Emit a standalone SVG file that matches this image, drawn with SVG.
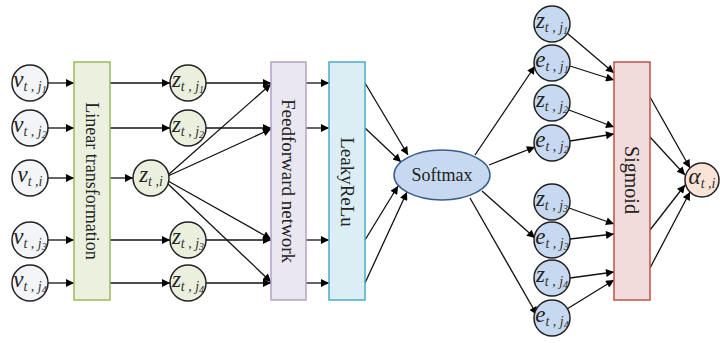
<svg xmlns="http://www.w3.org/2000/svg" width="720" height="343" viewBox="0 0 720 343">
<defs>
<marker id="ah" viewBox="0 0 10 10" refX="10" refY="5" markerWidth="10" markerHeight="8" markerUnits="userSpaceOnUse" orient="auto">
<path d="M0,0 L10,5 L0,10 z" fill="#000"/>
</marker>
</defs>
<style>
.c line{stroke:#111;stroke-width:1.3;marker-end:url(#ah);fill:none}
.circ{stroke:#222;stroke-width:1.5}
.v{fill:#f3f5f9}
.z{fill:#ebf0de}
.b{fill:#c6d9f1}
.a{fill:#fbe3d8}
.m{font-family:"Liberation Serif","Times New Roman",serif;font-style:italic;font-size:23px;fill:#222}
.s{font-size:14px;fill:#333}
.ss{font-size:10px}
.lbl{font-family:"Liberation Serif","Times New Roman",serif;font-size:18px;fill:#222}
</style>
<rect width="720" height="343" fill="#fff"/>
<g id="connectors" class="c">
<line x1="48" y1="83" x2="74" y2="83"/>
<line x1="48" y1="128" x2="74" y2="128"/>
<line x1="48" y1="178" x2="74" y2="178"/>
<line x1="48" y1="240" x2="74" y2="240"/>
<line x1="48" y1="283" x2="74" y2="283"/>
<line x1="110" y1="83" x2="170" y2="83"/>
<line x1="110" y1="128" x2="170" y2="128"/>
<line x1="110" y1="178" x2="133" y2="178"/>
<line x1="110" y1="240" x2="170" y2="240"/>
<line x1="110" y1="283" x2="170" y2="283"/>
<line x1="206" y1="83" x2="271" y2="83"/>
<line x1="206" y1="128" x2="271" y2="128"/>
<line x1="206" y1="240" x2="271" y2="240"/>
<line x1="206" y1="283" x2="271" y2="283"/>
<line x1="168" y1="175" x2="271" y2="84"/>
<line x1="168" y1="176" x2="271" y2="129"/>
<line x1="168" y1="181" x2="271" y2="239"/>
<line x1="167" y1="183" x2="271" y2="282"/>
<line x1="306" y1="83" x2="329" y2="83"/>
<line x1="306" y1="128" x2="329" y2="128"/>
<line x1="306" y1="240" x2="329" y2="240"/>
<line x1="306" y1="283" x2="329" y2="283"/>
<line x1="365" y1="83" x2="408" y2="155"/>
<line x1="365" y1="128" x2="401" y2="162"/>
<line x1="365" y1="240" x2="398" y2="186"/>
<line x1="365" y1="283" x2="407" y2="192"/>
<line x1="475" y1="155" x2="535" y2="66"/>
<line x1="489" y1="165" x2="535" y2="147"/>
<line x1="482" y1="191" x2="535" y2="238"/>
<line x1="470" y1="198" x2="537" y2="315"/>
<line x1="567" y1="33" x2="614" y2="73"/>
<line x1="570" y1="66" x2="614" y2="80"/>
<line x1="569" y1="110" x2="614" y2="127"/>
<line x1="570" y1="141" x2="614" y2="134"/>
<line x1="569" y1="208" x2="614" y2="224"/>
<line x1="570" y1="239" x2="614" y2="234"/>
<line x1="570" y1="278" x2="614" y2="272"/>
<line x1="567" y1="309" x2="614" y2="280"/>
<line x1="650" y1="97" x2="690" y2="168"/>
<line x1="650" y1="137" x2="685" y2="175"/>
<line x1="650" y1="230" x2="685" y2="185"/>
<line x1="650" y1="268" x2="690" y2="192"/>
</g>
<g id="linear"><rect x="74" y="62" width="36" height="238" fill="#ebf1de" stroke="#9bbb59" stroke-width="1.5"/><text class="lbl" transform="translate(92,181) rotate(90)" text-anchor="middle" dominant-baseline="central">Linear transformation</text></g>
<g id="feedforward"><rect x="271" y="62" width="35" height="238" fill="#ebe7f1" stroke="#b3a2c7" stroke-width="1.5"/><text class="lbl" style="font-size:19px" transform="translate(288.5,181) rotate(90)" text-anchor="middle" dominant-baseline="central">Feedforward network</text></g>
<g id="leakyrelu"><rect x="329" y="62" width="36" height="238" fill="#dbeef4" stroke="#4bacc6" stroke-width="1.5"/><text class="lbl" style="font-size:19px" transform="translate(347,182) rotate(90)" text-anchor="middle" dominant-baseline="central">LeakyReLu</text></g>
<g id="softmax"><ellipse cx="442" cy="175" rx="48" ry="25" fill="#c6d9f1" stroke="#385d8a" stroke-width="1.5"/><text class="lbl" x="442" y="181" text-anchor="middle">Softmax</text></g>
<g id="sigmoid"><rect x="614" y="62" width="36" height="238" fill="#f2dcdb" stroke="#c0504d" stroke-width="1.5"/><text class="lbl" style="font-size:20px" transform="translate(632,180) rotate(90)" text-anchor="middle" dominant-baseline="central">Sigmoid</text></g>

<g id="v_j1"><circle class="circ v" cx="30" cy="83" r="18"/><text class="m" x="30" y="87" text-anchor="middle">v<tspan class="s" dy="4">t , j</tspan><tspan class="s ss" dy="2">1</tspan></text></g>
<g id="v_j2"><circle class="circ v" cx="30" cy="128" r="18"/><text class="m" x="30" y="132" text-anchor="middle">v<tspan class="s" dy="4">t , j</tspan><tspan class="s ss" dy="2">2</tspan></text></g>
<g id="v_i"><circle class="circ v" cx="30" cy="178" r="18"/><text class="m" x="30" y="182" text-anchor="middle">v<tspan class="s" dy="4">t ,i</tspan></text></g>
<g id="v_j3"><circle class="circ v" cx="30" cy="240" r="18"/><text class="m" x="30" y="244" text-anchor="middle">v<tspan class="s" dy="4">t , j</tspan><tspan class="s ss" dy="2">3</tspan></text></g>
<g id="v_j4"><circle class="circ v" cx="30" cy="283" r="18"/><text class="m" x="30" y="287" text-anchor="middle">v<tspan class="s" dy="4">t , j</tspan><tspan class="s ss" dy="2">4</tspan></text></g>

<g id="z_j1"><circle class="circ z" cx="188" cy="83" r="18"/><text class="m" x="188" y="87" text-anchor="middle">z<tspan class="s" dy="4">t , j</tspan><tspan class="s ss" dy="2">1</tspan></text></g>
<g id="z_j2"><circle class="circ z" cx="188" cy="128" r="18"/><text class="m" x="188" y="132" text-anchor="middle">z<tspan class="s" dy="4">t , j</tspan><tspan class="s ss" dy="2">2</tspan></text></g>
<g id="z_i"><circle class="circ z" cx="151" cy="178" r="18"/><text class="m" x="151" y="182" text-anchor="middle">z<tspan class="s" dy="4">t ,i</tspan></text></g>
<g id="z_j3"><circle class="circ z" cx="188" cy="240" r="18"/><text class="m" x="188" y="244" text-anchor="middle">z<tspan class="s" dy="4">t , j</tspan><tspan class="s ss" dy="2">3</tspan></text></g>
<g id="z_j4"><circle class="circ z" cx="188" cy="283" r="18"/><text class="m" x="188" y="287" text-anchor="middle">z<tspan class="s" dy="4">t , j</tspan><tspan class="s ss" dy="2">4</tspan></text></g>

<g id="rz_j1"><circle class="circ b" cx="552" cy="24" r="18"/><text class="m" x="552" y="28" text-anchor="middle">z<tspan class="s" dy="4">t , j</tspan><tspan class="s ss" dy="2">1</tspan></text></g>
<g id="e_j1"><circle class="circ b" cx="552" cy="63" r="18"/><text class="m" x="552" y="67" text-anchor="middle">e<tspan class="s" dy="4">t , j</tspan><tspan class="s ss" dy="2">1</tspan></text></g>
<g id="rz_j2"><circle class="circ b" cx="552" cy="103" r="18"/><text class="m" x="552" y="107" text-anchor="middle">z<tspan class="s" dy="4">t , j</tspan><tspan class="s ss" dy="2">2</tspan></text></g>
<g id="e_j2"><circle class="circ b" cx="552" cy="143" r="18"/><text class="m" x="552" y="147" text-anchor="middle">e<tspan class="s" dy="4">t , j</tspan><tspan class="s ss" dy="2">2</tspan></text></g>
<g id="rz_j3"><circle class="circ b" cx="552" cy="202" r="18"/><text class="m" x="552" y="206" text-anchor="middle">z<tspan class="s" dy="4">t , j</tspan><tspan class="s ss" dy="2">3</tspan></text></g>
<g id="e_j3"><circle class="circ b" cx="552" cy="240" r="18"/><text class="m" x="552" y="244" text-anchor="middle">e<tspan class="s" dy="4">t , j</tspan><tspan class="s ss" dy="2">3</tspan></text></g>
<g id="rz_j4"><circle class="circ b" cx="552" cy="278" r="18"/><text class="m" x="552" y="282" text-anchor="middle">z<tspan class="s" dy="4">t , j</tspan><tspan class="s ss" dy="2">4</tspan></text></g>
<g id="e_j4"><circle class="circ b" cx="552" cy="318" r="18"/><text class="m" x="552" y="322" text-anchor="middle">e<tspan class="s" dy="4">t , j</tspan><tspan class="s ss" dy="2">4</tspan></text></g>

<g id="alpha"><circle class="circ a" cx="702" cy="180" r="17"/><text class="m" x="702" y="184" text-anchor="middle">α<tspan class="s" dy="4">t ,i</tspan></text></g>
</svg>
